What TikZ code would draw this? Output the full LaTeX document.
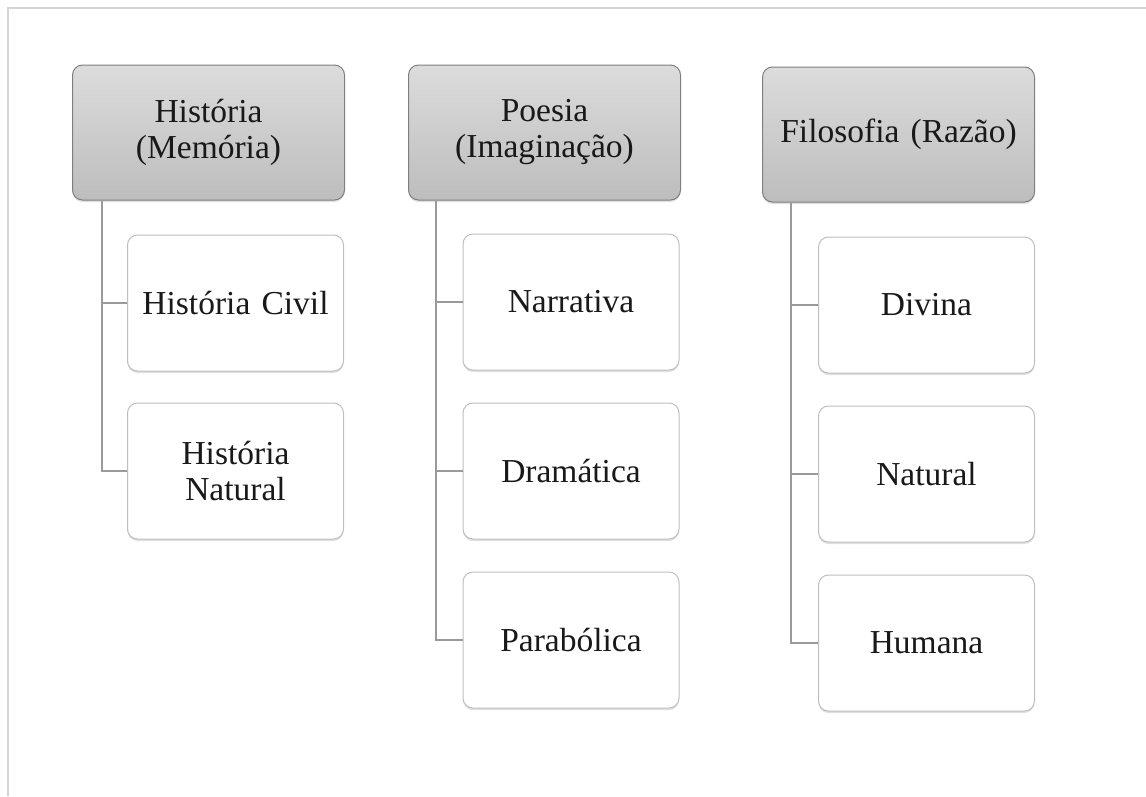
\documentclass[tikz,border=0pt]{standalone}
\usepackage{fontspec}
\setmainfont{Liberation Serif}
\usetikzlibrary{shadows}
\definecolor{hdtop}{HTML}{DCDCDC}
\definecolor{hdbot}{HTML}{BDBDBD}
\definecolor{hdline}{HTML}{7F7F7F}
\definecolor{chline}{HTML}{BFBFBF}
\definecolor{conn}{HTML}{9A9A9A}
\definecolor{frame}{HTML}{D4D4D4}
\tikzset{
  header/.style={draw=hdline, line width=1pt, rounded corners=10pt,
    top color=hdtop, bottom color=hdbot, minimum width=272pt, minimum height=135pt,
    inner sep=0pt, align=center, text width=262pt,
    font=\fontsize{33.5}{36}\selectfont, text=black!90,
    drop shadow={opacity=0.25, shadow xshift=0pt, shadow yshift=-2pt}},
  child/.style={draw=chline, line width=1pt, rounded corners=10pt, fill=white,
    minimum width=216pt, minimum height=136pt, inner sep=0pt, align=center,
    text width=210pt, font=\fontsize{33.5}{36}\selectfont, text=black!90,
    drop shadow={opacity=0.25, shadow xshift=0pt, shadow yshift=-2pt}},
  conn/.style={draw=conn, line width=1.5pt}
}
\begin{document}
\begin{tikzpicture}[x=1pt,y=1pt]
\useasboundingbox (0,0) rectangle (1146,-796);
\draw[frame, line width=1.2pt] (1146,-8) -- (8,-8) -- (8,-796);

\node[header] (h1) at (208.5,-132.5) {História\\(Memória)};
\node[header] (h2) at (544.5,-132.5) {Poesia\\(Imaginação)};
\node[header] (h3) at (898.5,-134.5) {Filosofia (Razão)};

\node[child] (a1) at (235.5,-303) {História Civil};
\node[child] (a2) at (235.5,-471) {História\\Natural};

\node[child] (b1) at (571,-302) {Narrativa};
\node[child] (b2) at (571,-471) {Dramática};
\node[child] (b3) at (571,-640) {Parabólica};

\node[child] (c1) at (926.5,-305) {Divina};
\node[child] (c2) at (926.5,-474) {Natural};
\node[child] (c3) at (926.5,-643) {Humana};

\draw[conn] ([xshift=30pt]h1.south west) |- (a2.west);
\draw[conn] ([xshift=30pt]h1.south west) |- (a1.west);
\draw[conn] ([xshift=28pt]h2.south west) |- (b3.west);
\draw[conn] ([xshift=28pt]h2.south west) |- (b2.west);
\draw[conn] ([xshift=28pt]h2.south west) |- (b1.west);
\draw[conn] ([xshift=29pt]h3.south west) |- (c3.west);
\draw[conn] ([xshift=29pt]h3.south west) |- (c2.west);
\draw[conn] ([xshift=29pt]h3.south west) |- (c1.west);
\end{tikzpicture}
\end{document}
